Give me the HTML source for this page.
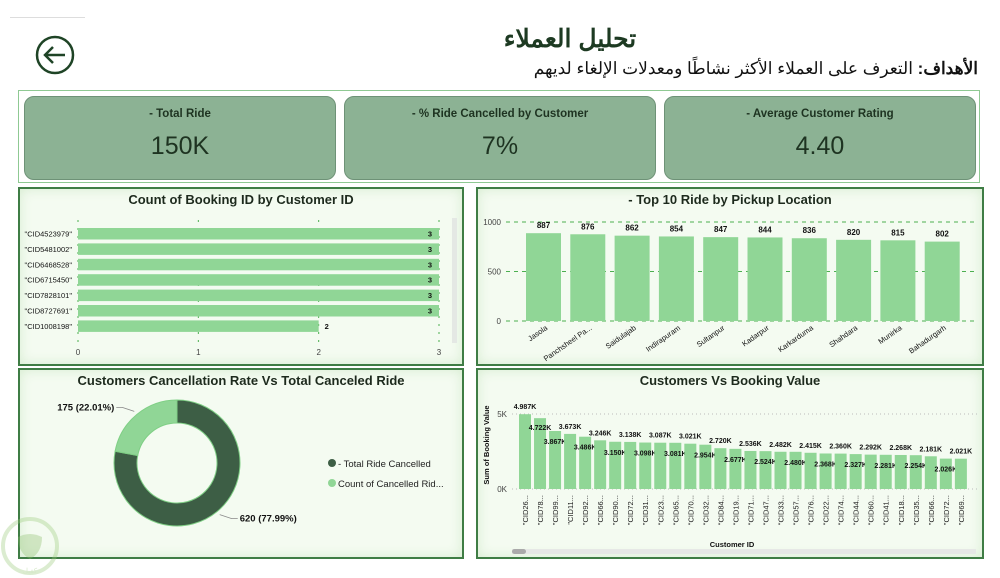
<!DOCTYPE html>
<html><head><meta charset="utf-8">
<style>
body{margin:0;width:1000px;height:578px;background:#fff;position:relative;overflow:hidden;font-family:"Liberation Sans","Noto Sans CJK SC",sans-serif;}
.abs{position:absolute;}
.panel{position:absolute;border:2px solid #3f7d45;background:#f4fbf1;box-shadow:inset 0 0 12px #d6ecd0;box-sizing:border-box;}
.ptitle{position:absolute;left:0;right:0;text-align:center;font-weight:bold;font-size:13px;color:#1d2a1d;top:3px;}
.card{position:absolute;top:96px;width:312px;height:84px;background:#8cb294;border:1px solid #6e9277;border-radius:10px;box-sizing:border-box;text-align:center;color:#1e3321;}
.card .l{font-size:11.5px;font-weight:bold;margin-top:11px;}
.card .v{font-size:25px;margin-top:12px;}
svg text{font-family:"Liberation Sans",sans-serif;}
</style></head><body>
<div class="abs" style="left:10px;top:17px;width:75px;height:1px;background:#ddd"></div>
<svg class="abs" style="left:34px;top:34px" width="42" height="42"><circle cx="21" cy="21" r="18" fill="none" stroke="#1f4426" stroke-width="2.5"/><path d="M31 21H11M19 13l-8 8 8 8" fill="none" stroke="#1f4426" stroke-width="2.5"/></svg>
<div class="abs" style="left:450px;width:240px;top:24px;text-align:center;font-size:25px;font-weight:bold;color:#1d3a22;font-family:'Liberation Sans','Noto Sans CJK SC',sans-serif" dir="rtl">تحليل العملاء</div>
<div class="abs" dir="rtl" style="right:22px;top:59px;font-size:17px;color:#111;white-space:nowrap"><b>الأهداف:</b> التعرف على العملاء الأكثر نشاطًا ومعدلات الإلغاء لديهم</div>

<div class="abs" style="left:18px;top:90px;width:962px;height:93px;border:1px solid #8fc993;box-sizing:border-box"></div>
<div class="card" style="left:24px"><div class="l">- Total Ride</div><div class="v">150K</div></div>
<div class="card" style="left:344px"><div class="l">- % Ride Cancelled by Customer</div><div class="v">7%</div></div>
<div class="card" style="left:664px"><div class="l">- Average Customer Rating</div><div class="v">4.40</div></div>

<div class="panel" style="left:18px;top:187px;width:446px;height:179px"><div class="ptitle">Count of Booking ID by Customer ID</div></div>
<div class="panel" style="left:476px;top:187px;width:508px;height:179px"><div class="ptitle">- Top 10 Ride by Pickup Location</div></div>
<div class="panel" style="left:18px;top:368px;width:446px;height:191px"><div class="ptitle">Customers Cancellation Rate Vs Total Canceled Ride</div></div>
<div class="panel" style="left:476px;top:368px;width:508px;height:191px"><div class="ptitle">Customers Vs Booking Value</div></div>

<svg class="abs" id="chart" style="left:0;top:0" width="1000" height="578"></svg>

<svg class="abs" style="left:0;top:515px;opacity:0.35" width="62" height="62"><circle cx="30" cy="31" r="27" fill="none" stroke="#9acb7a" stroke-width="4"/><path d="M18 22q12-6 24 0q0 16-12 22q-12-6-12-22z" fill="#8bbf6b"/><text x="30" y="58" font-size="7" text-anchor="middle" fill="#8bbf6b">كفيل</text></svg>

<script>
const custIds=['"CID4523979"','"CID5481002"','"CID6468528"','"CID6715450"','"CID7828101"','"CID8727691"','"CID1008198"'];
const custCounts=[3,3,3,3,3,3,2];
const countTicks=[0,1,2,3];
const locations=['Jasola','Panchsheel Pa...','Saidulajab','Indirapuram','Sultanpur','Kadarpur','Karkarduma','Shahdara','Munirka','Bahadurgarh'];
const locRides=[887,876,862,854,847,844,836,820,815,802];
const rideTicks=[0,500,1000];
const donutLabels=['- Total Ride Cancelled','Count of Cancelled Rid...'];
const donutValues=[620,175];
const valIds=['CID26','CID78','CID99','CID11','CID92','CID66','CID90','CID72','CID31','CID23','CID65','CID70','CID32','CID84','CID19','CID71','CID47','CID33','CID57','CID76','CID22','CID74','CID44','CID60','CID41','CID18','CID35','CID66','CID72','CID69'];
const valValues=[4.987,4.722,3.867,3.673,3.486,3.246,3.150,3.138,3.098,3.087,3.081,3.021,2.954,2.720,2.677,2.536,2.524,2.482,2.480,2.415,2.368,2.360,2.327,2.292,2.281,2.268,2.254,2.181,2.026,2.021];
const valTicks=[0,5];

const svg=document.getElementById('chart');
const NS='http://www.w3.org/2000/svg';
function mk(tag,at,txt){const e=document.createElementNS(NS,tag);for(const k in at)e.setAttribute(k,at[k]);if(txt!==undefined)e.textContent=txt;svg.appendChild(e);return e;}
const G='#90d696';

// Chart 1: horizontal bars
const x1=v=>78+v*(439-78)/3;
const y1=i=>228+i*15.4;
countTicks.forEach(t=>{
  const g=mk('line',{x1:x1(t),x2:x1(t),y1:220,y2:345,stroke:'#4caf50','stroke-dasharray':'2,6','stroke-width':1});
  
  const l=mk('text',{x:x1(t),y:355,'font-size':8,'text-anchor':'middle',fill:'#444'},t);
  
});
custIds.forEach((c,i)=>{
  const r=mk('rect',{x:x1(0),y:y1(i),width:x1(custCounts[i])-x1(0),height:11.5,fill:G});
  
  const l=mk('text',{x:72,y:y1(i)+8.5,'font-size':7.5,'text-anchor':'end',fill:'#111'},c);
  
  const full=custCounts[i]>=3;
  const v=mk('text',{x:full?x1(custCounts[i])-7:x1(custCounts[i])+6,y:y1(i)+8.5,'font-size':7.5,'font-weight':'bold','text-anchor':full?'end':'start',fill:'#111'},custCounts[i]);
  
});
const sb=mk('rect',{x:452,y:218,width:5,height:125,fill:'#e4e8e4'});


// Chart 2: pickup vertical bars
const y2=v=>321-v*(321-222)/1000;
const x2=i=>526+i*44.3;
rideTicks.forEach(t=>{
  const g=mk('line',{x1:506,x2:978,y1:y2(t),y2:y2(t),stroke:'#4caf50','stroke-dasharray':'4,4','stroke-width':1});
  
  const l=mk('text',{x:501,y:y2(t)+3,'font-size':8,'text-anchor':'end',fill:'#444'},t);
  
});
locations.forEach((n,i)=>{
  const r=mk('rect',{x:x2(i),y:y2(locRides[i]),width:35,height:y2(0)-y2(locRides[i]),fill:G});
  
  const v=mk('text',{x:x2(i)+17.5,y:y2(locRides[i])-5,'font-size':8,'font-weight':'bold','text-anchor':'middle',fill:'#111'},locRides[i]);
  
  const l=mk('text',{x:x2(i)+22,y:329,'font-size':7.5,'text-anchor':'end',fill:'#111',transform:`rotate(-35 ${x2(i)+22} 329)`},n);
  
});

// Chart 3: donut
const cx=177,cy=463,R=63,r0=40;
const tot=donutValues.reduce((a,b)=>a+b,0);
const cols=['#3d5e45',G];
let ang=0;
donutValues.forEach((v,i)=>{
  const a0=ang,a1=ang+v/tot*2*Math.PI;ang=a1;
  const P=(a,rr)=>(cx+Math.sin(a)*rr).toFixed(2)+' '+(cy-Math.cos(a)*rr).toFixed(2);
  const lg=(a1-a0)>Math.PI?1:0;
  const d=`M${P(a0,R)} A${R} ${R} 0 ${lg} 1 ${P(a1,R)} L${P(a1,r0)} A${r0} ${r0} 0 ${lg} 0 ${P(a0,r0)} Z`;
  const s=mk('path',{d:d,fill:cols[i],stroke:'#7fcf85','stroke-width':1});
  
  const pct=(v/tot*100).toFixed(2);
  const mid=(a0+a1)/2;
  const ex=cx+Math.sin(mid)*(R+4),ey=cy-Math.cos(mid)*(R+4);
  const right=Math.sin(mid)>0;
  const lx=right?ex+12:ex-12;
  const ln=mk('polyline',{points:`${ex},${ey} ${lx},${ey+(right?4:-4)} ${lx+(right?6:-6)},${ey+(right?4:-4)}`,fill:'none',stroke:'#888','stroke-width':0.8});
  
  const t=mk('text',{x:lx+(right?8:-8),y:ey+(right?7:-1),'font-size':9.5,'font-weight':'bold','text-anchor':right?'start':'end',fill:'#111'},`${v} (${pct}%)`);
  
});
donutLabels.forEach((n,i)=>{
  const c=mk('circle',{cx:332,cy:463+i*20,r:4,fill:cols[i]});
  
  const t=mk('text',{x:338,y:467+i*20,'font-size':9.5,fill:'#222'},n);
  
});

// Chart 4: booking value
const y4=v=>489-v*(489-414)/5;
const x4=i=>519+i*15.03;
valTicks.forEach(t=>{
  const g=mk('line',{x1:512,x2:978,y1:y4(t),y2:y4(t),stroke:'#bbb','stroke-dasharray':'1,3','stroke-width':1});
  
  const l=mk('text',{x:507,y:y4(t)+3,'font-size':8,'text-anchor':'end',fill:'#444'},t+'K');
  
});
valIds.forEach((n,i)=>{
  const v=valValues[i];
  const r=mk('rect',{x:x4(i),y:y4(v),width:12,height:y4(0)-y4(v),fill:G});
  
  const above=(i%2===1&&i>1)||i===0;
  const t=mk('text',{x:x4(i)+6,y:above?y4(v)-5:y4(v)+(i===1?12:13),'font-size':7,'font-weight':'bold','text-anchor':'middle',fill:'#111'},v.toFixed(3)+'K');
  
  const l=mk('text',{x:x4(i)+9,y:495,'font-size':7.5,'text-anchor':'end',fill:'#222',transform:`rotate(-90 ${x4(i)+9} 495)`},'"'+n+'...');
  
});
const yt=mk('text',{x:489,y:445,'font-size':7.5,'font-weight':'bold','text-anchor':'middle',fill:'#111',transform:'rotate(-90 489 445)'},'Sum of Booking Value');

const xt=mk('text',{x:732,y:547,'font-size':7.5,'font-weight':'bold','text-anchor':'middle',fill:'#111'},'Customer ID');

const hs=mk('rect',{x:512,y:549,width:464,height:5,fill:'#e6e8e6'});

const th=mk('rect',{x:512,y:549,width:14,height:5,rx:2.5,fill:'#aaa'});

</script>
</body></html>
